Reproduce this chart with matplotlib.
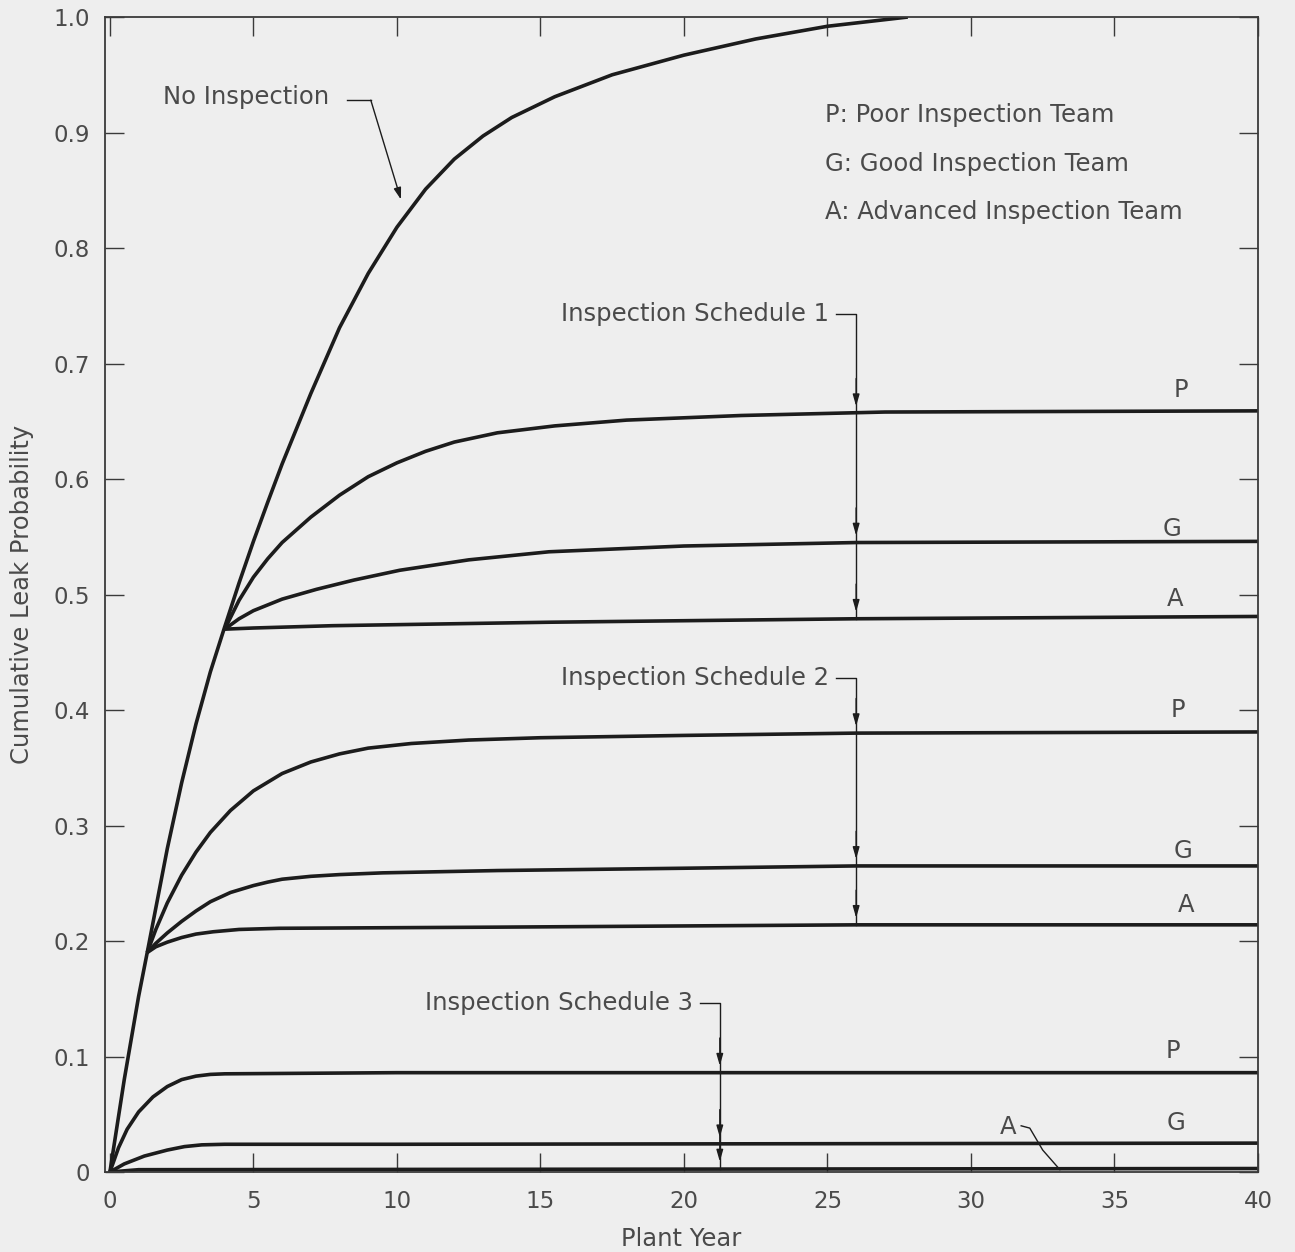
import matplotlib.pyplot as plt

plt.rcParams['font.family'] = ['DejaVu Sans']

# curves (plant year, cumulative leak probability)
yr_none = [0, 0.5, 1.0, 1.3, 2.0, 2.5, 3.0, 3.5, 4.0, 4.5, 5.0, 5.5, 6.0, 7.0,
           8.0, 9.0, 10.0, 11.0, 12.0, 13.0, 14.0, 15.5, 17.5, 20, 22.5, 25, 27.8]
p_none = [0, 0.080, 0.152, 0.190, 0.280, 0.337, 0.388, 0.433, 0.472, 0.510,
          0.546, 0.580, 0.613, 0.674, 0.731, 0.778, 0.818, 0.851, 0.877,
          0.897, 0.913, 0.931, 0.950, 0.967, 0.981, 0.992, 1.0]

# schedule 1
yr_s1p = [4.0, 4.5, 5.0, 5.5, 6.0, 7.0, 8.0, 9.0, 10, 11, 12, 13.5, 15.5,
          18, 22, 27, 40]
p_s1p = [0.470, 0.495, 0.515, 0.531, 0.545, 0.567, 0.586, 0.602, 0.614,
         0.624, 0.632, 0.640, 0.646, 0.651, 0.655, 0.658, 0.659]
yr_s1g = [4.0, 4.5, 5.0, 6.0, 7.2, 8.5, 10.1, 12.5, 15.3, 20, 26, 40]
p_s1g = [0.470, 0.479, 0.486, 0.496, 0.5045, 0.5125, 0.521, 0.530, 0.537,
         0.542, 0.545, 0.546]
yr_s1a = [4.0, 5.0, 7.75, 15.3, 26, 40]
p_s1a = [0.470, 0.471, 0.473, 0.476, 0.479, 0.481]

# schedule 2
yr_s2p = [1.3, 1.6, 2.0, 2.5, 3.0, 3.5, 4.2, 5.0, 6.0, 7.0, 8.0, 9.0, 10.5,
          12.5, 15, 20, 26, 40]
p_s2p = [0.190, 0.210, 0.233, 0.257, 0.277, 0.294, 0.313, 0.330, 0.345,
         0.355, 0.362, 0.367, 0.371, 0.374, 0.376, 0.378, 0.380, 0.381]
yr_s2g = [1.3, 1.6, 2.0, 2.5, 3.0, 3.5, 4.2, 5.0, 5.5, 6.0, 7.0, 8.0, 9.5,
          13.5, 20, 26, 40]
p_s2g = [0.190, 0.198, 0.207, 0.217, 0.226, 0.234, 0.242, 0.248, 0.251,
         0.2535, 0.256, 0.2575, 0.259, 0.261, 0.263, 0.265, 0.265]
yr_s2a = [1.3, 1.6, 2.0, 2.5, 3.0, 3.6, 4.5, 5.9, 13.5, 26, 40]
p_s2a = [0.190, 0.195, 0.199, 0.203, 0.206, 0.208, 0.210, 0.211, 0.212,
         0.214, 0.214]

# schedule 3
yr_s3p = [0, 0.3, 0.6, 1.0, 1.5, 2.0, 2.5, 3.0, 3.5, 4.0, 10, 20, 40]
p_s3p = [0, 0.021, 0.037, 0.052, 0.065, 0.074, 0.080, 0.083, 0.0845, 0.085,
         0.086, 0.086, 0.086]
yr_s3g = [0, 0.5, 1.2, 2.0, 2.6, 3.2, 4.0, 10, 40]
p_s3g = [0, 0.007, 0.0138, 0.019, 0.022, 0.0235, 0.024, 0.024, 0.025]
yr_s3a = [0, 1.0, 40]
p_s3a = [0, 0.002, 0.003]

curves = [(yr_none, p_none),
          (yr_s1p, p_s1p), (yr_s1g, p_s1g), (yr_s1a, p_s1a),
          (yr_s2p, p_s2p), (yr_s2g, p_s2g), (yr_s2a, p_s2a),
          (yr_s3p, p_s3p), (yr_s3g, p_s3g), (yr_s3a, p_s3a)]

# team letters at the right end of each curve
team_labels = ['P', 'G', 'A', 'P', 'G', 'A', 'P', 'G']
team_label_y = [0.677, 0.557, 0.496, 0.400, 0.278, 0.231, 0.105, 0.042]
team_label_x = [37.3, 37.0, 37.1, 37.2, 37.4, 37.5, 37.05, 37.15]

legend_lines = ['P: Poor Inspection Team', 'G: Good Inspection Team',
                'A: Advanced Inspection Team']

bg = '#eeeeee'
ink = '#1c1c1c'
txt = '#4a4a4a'
fs = 17.5

fig = plt.figure(figsize=(12.95, 12.52), dpi=100, facecolor=bg)
ax = fig.add_axes([0.0811, 0.0639, 0.8903, 0.9225])
ax.set_facecolor(bg)

for xs, ys in curves:
    ax.plot(xs, ys, color=ink, lw=2.6, solid_capstyle='butt',
            solid_joinstyle='round')

ax.set_xlim(-0.17, 40)
ax.set_ylim(0, 1.0)
ax.set_xticks(range(0, 41, 5))
ax.set_yticks([i / 10 for i in range(11)])
ax.set_yticklabels(['0'] + ['%.1f' % (i / 10) for i in range(1, 11)])

for s in ax.spines.values():
    s.set_color('#3a3a3a')
    s.set_linewidth(1.3)

ax.tick_params(direction='in', length=14, width=1.0, color='#3a3a3a',
               top=True, right=True, labelsize=16.5, labelcolor=txt)
ax.tick_params(axis='y', pad=11)
ax.tick_params(axis='x', pad=13)

ax.set_xlabel('Plant Year', fontsize=fs, color=txt, labelpad=10)
ax.set_ylabel('Cumulative Leak Probability', fontsize=fs, color=txt,
              labelpad=14)

# team legend block
for i, line in enumerate(legend_lines):
    ax.text(24.9, 0.915 - i * 0.042, line, fontsize=fs, color=txt,
            ha='left', va='center')

for lab, lx, ly in zip(team_labels, team_label_x, team_label_y):
    ax.text(lx, ly, lab, fontsize=fs, color=txt, ha='center', va='center')

# "No Inspection" pointer
ax.text(1.85, 0.931, 'No Inspection', fontsize=fs, color=txt,
        ha='left', va='center')
ax.plot([8.25, 9.09], [0.928, 0.928], color=ink, lw=1.0)
ax.annotate('', xy=(10.14, 0.842), xytext=(9.09, 0.928),
            arrowprops=dict(arrowstyle='-|>,head_length=0.7,head_width=0.22',
                            color=ink, lw=1.0, shrinkA=0, shrinkB=0))

# schedule brackets with arrows down to each team curve
brackets = [
    ('Inspection Schedule 1', 26.0, 0.743, [0.657, 0.545, 0.479]),
    ('Inspection Schedule 2', 26.0, 0.428, [0.380, 0.265, 0.214]),
    ('Inspection Schedule 3', 21.25, 0.146, [0.086, 0.024, 0.003]),
]
for label, bx, by, targets in brackets:
    ax.text(bx - 0.95, by, label, fontsize=fs, color=txt,
            ha='right', va='center')
    ax.plot([bx - 0.7, bx, bx], [by, by, targets[-1]], color=ink, lw=1.0)
    for t in targets:
        ax.annotate('', xy=(bx, t + 0.006), xytext=(bx, t + 0.03),
                    arrowprops=dict(arrowstyle='-|>,head_length=0.7,head_width=0.2',
                                    color=ink, lw=1.0, shrinkA=0, shrinkB=0))

# "A" label for schedule 3 with hook line
ax.text(31.3, 0.039, 'A', fontsize=fs, color=txt, ha='center', va='center')
ax.plot([31.75, 32.05, 32.5, 33.1], [0.040, 0.038, 0.019, 0.002],
        color=ink, lw=1.0)

fig.savefig('out.png', dpi=100, facecolor=bg)
